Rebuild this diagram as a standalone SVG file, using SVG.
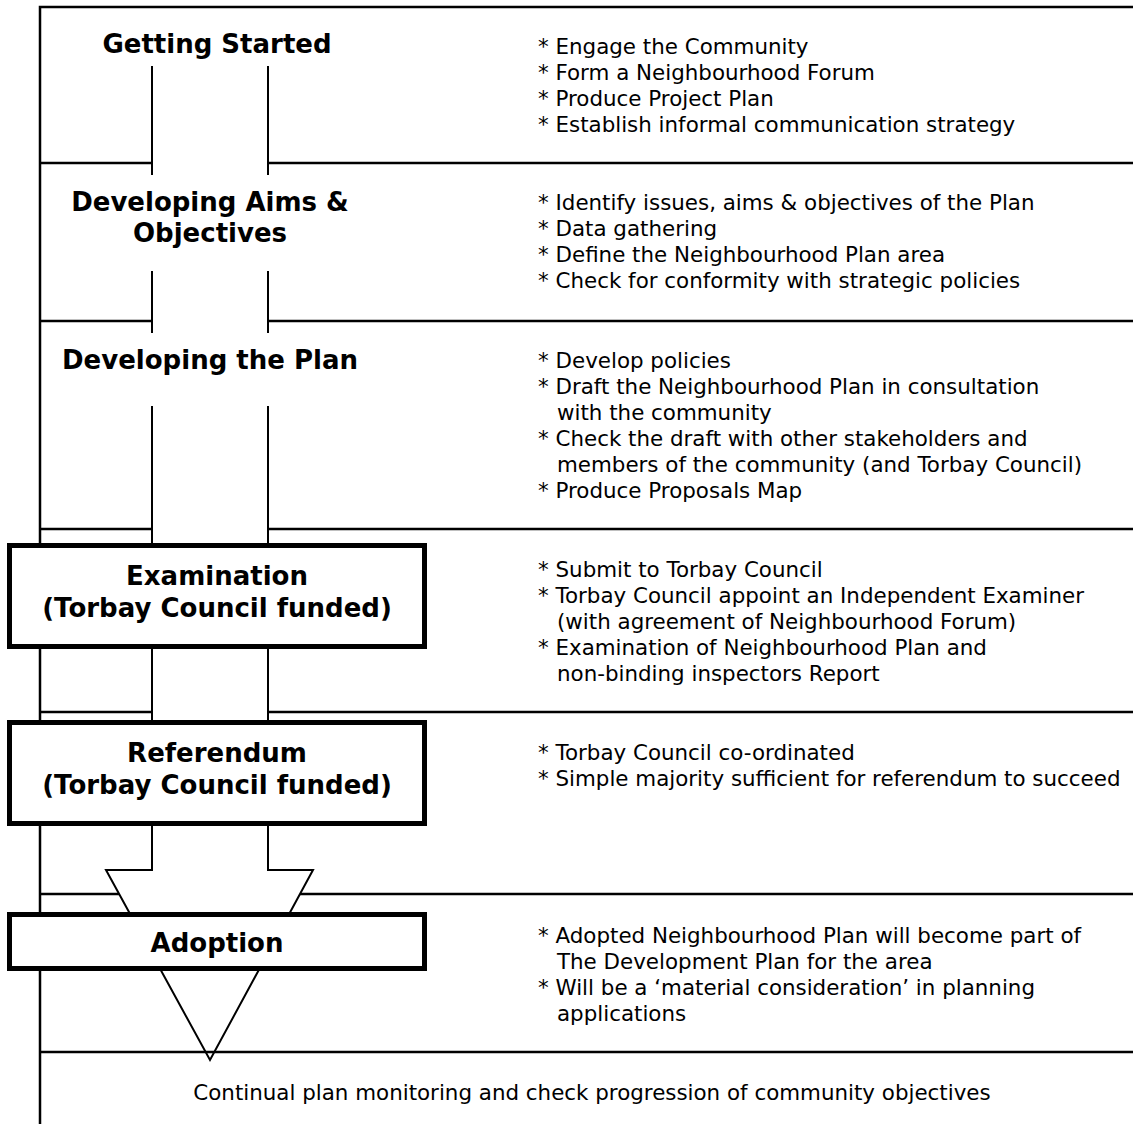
<svg xmlns="http://www.w3.org/2000/svg" width="1133" height="1124" viewBox="0 0 1133 1124">
<style>
.frame{stroke:#000;stroke-width:2.5;fill:none}
.title{font-family:"DejaVu Sans",Verdana,sans-serif;font-weight:bold;font-size:26px;fill:#000;text-anchor:middle}
.item{font-family:"DejaVu Sans",Verdana,sans-serif;font-size:21.4px;fill:#000}
.box{fill:#fff;stroke:#000;stroke-width:5}
.mask{fill:#fff;stroke:none}
.arrow{fill:#fff;stroke:#000;stroke-width:2}
</style>
<rect x="0" y="0" width="1133" height="1124" fill="#fff"/>
<g id="frame">
<path class="frame" d="M1133,7 H40 V1124"/>
<line class="frame" x1="40" y1="163" x2="1133" y2="163"/>
<line class="frame" x1="40" y1="321" x2="1133" y2="321"/>
<line class="frame" x1="40" y1="529" x2="1133" y2="529"/>
<line class="frame" x1="40" y1="712" x2="1133" y2="712"/>
<line class="frame" x1="40" y1="894" x2="1133" y2="894"/>
</g>
<g id="connectors">
<path class="arrow" d="M152,66 V870 H106 L210,1060 L313,870 H268 V66"/>
</g>
<line class="frame" x1="40" y1="1052" x2="1133" y2="1052"/>
<g id="getting-started">
<text class="title" x="217" y="53">Getting Started</text>
<text class="item" x="538" y="54">* Engage the Community</text>
<text class="item" x="538" y="80">* Form a Neighbourhood Forum</text>
<text class="item" x="538" y="106">* Produce Project Plan</text>
<text class="item" x="538" y="132">* Establish informal communication strategy</text>
</g>
<g id="aims">
<rect class="mask" x="45" y="175" width="320" height="96"/>
<text class="title" x="210" y="211">Developing Aims &amp;</text>
<text class="title" x="210" y="242">Objectives</text>
<text class="item" x="538" y="210">* Identify issues, aims &amp; objectives of the Plan</text>
<text class="item" x="538" y="236">* Data gathering</text>
<text class="item" x="538" y="262">* Define the Neighbourhood Plan area</text>
<text class="item" x="538" y="288">* Check for conformity with strategic policies</text>
</g>
<g id="plan">
<rect class="mask" x="45" y="333" width="320" height="73"/>
<text class="title" x="210" y="369">Developing the Plan</text>
<text class="item" x="538" y="368">* Develop policies</text>
<text class="item" x="538" y="394">* Draft the Neighbourhood Plan in consultation</text>
<text class="item" x="557" y="420">with the community</text>
<text class="item" x="538" y="446">* Check the draft with other stakeholders and</text>
<text class="item" x="557" y="472">members of the community (and Torbay Council)</text>
<text class="item" x="538" y="498">* Produce Proposals Map</text>
</g>
<g id="examination">
<rect class="box" x="9.5" y="545.5" width="415" height="101"/>
<text class="title" x="217" y="585">Examination</text>
<text class="title" x="217" y="617">(Torbay Council funded)</text>
<text class="item" x="538" y="577">* Submit to Torbay Council</text>
<text class="item" x="538" y="603">* Torbay Council appoint an Independent Examiner</text>
<text class="item" x="557" y="629">(with agreement of Neighbourhood Forum)</text>
<text class="item" x="538" y="655">* Examination of Neighbourhood Plan and</text>
<text class="item" x="557" y="681">non-binding inspectors Report</text>
</g>
<g id="referendum">
<rect class="box" x="9.5" y="722.5" width="415" height="101"/>
<text class="title" x="217" y="762">Referendum</text>
<text class="title" x="217" y="794">(Torbay Council funded)</text>
<text class="item" x="538" y="760">* Torbay Council co-ordinated</text>
<text class="item" x="538" y="786">* Simple majority sufficient for referendum to succeed</text>
</g>
<g id="adoption">
<rect class="box" x="9.5" y="914.5" width="415" height="54"/>
<text class="title" x="217" y="952">Adoption</text>
<text class="item" x="538" y="943">* Adopted Neighbourhood Plan will become part of</text>
<text class="item" x="557" y="969">The Development Plan for the area</text>
<text class="item" x="538" y="995">* Will be a ‘material consideration’ in planning</text>
<text class="item" x="557" y="1021">applications</text>
</g>
<g id="monitoring">
<text class="item" x="592" y="1100" text-anchor="middle">Continual plan monitoring and check progression of community objectives</text>
</g>
</svg>
